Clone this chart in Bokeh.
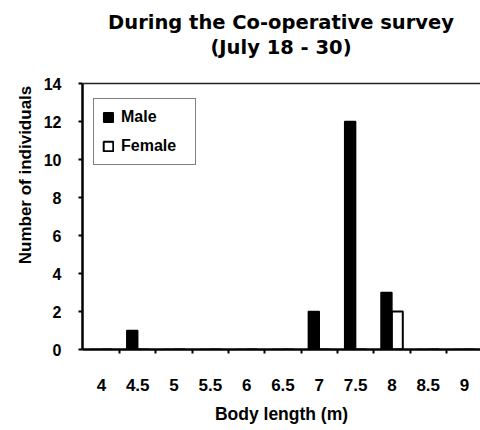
from bokeh.plotting import figure
from bokeh.models import (Range1d, FixedTicker, Label, Legend, LegendItem, Span,
                          ColumnDataSource, Title)
from bokeh.transform import dodge
from bokeh.embed import file_html
from bokeh.resources import INLINE

# ---- data ----
lengths = [4, 4.5, 5, 5.5, 6, 6.5, 7, 7.5, 8, 8.5, 9]
tick_labels = ["4", "4.5", "5", "5.5", "6", "6.5", "7", "7.5", "8", "8.5", "9"]
male = [0, 1, 0, 0, 0, 0, 2, 12, 3, 0, 0]
female = [0, 0, 0, 0, 0, 0, 0, 0, 2, 0, 0]
y_ticks = [0, 2, 4, 6, 8, 10, 12, 14]
title_line1 = "During the Co-operative survey"
title_line2 = "(July 18 - 30)"
y_label = "Number of individuals"
x_label = "Body length (m)"

FONT = "Liberation Sans"
TFONT = "DejaVu Sans"

W, H = 480, 430
BL, BR, BT, BB = 82, 0, 0, 81
FW, FH = W - BL - BR, H - BT - BB     # frame includes the title area
AXIS_H = 266                          # pixel height of the 0..14 axis
y_top = max(y_ticks) * FH / AXIS_H

src = ColumnDataSource(dict(x=lengths, male=male, female=female))

p = figure(width=W, height=H, output_backend="svg", toolbar_location=None,
           x_range=Range1d(3.74, 9.22), y_range=Range1d(0, y_top),
           min_border_left=BL, min_border_right=BR, min_border_top=BT,
           min_border_bottom=BB)
p.title = None
p.outline_line_color = None
p.background_fill_color = "white"
p.border_fill_color = "white"
p.xgrid.visible = False
p.ygrid.visible = False

bar_w = 0.15
r_m = p.vbar(x=dodge("x", -bar_w / 2, range=p.x_range), top="male", width=bar_w,
             source=src, fill_color="black", line_color="black", line_width=1.5)
r_f = p.vbar(x=dodge("x", bar_w / 2, range=p.x_range), top="female", width=bar_w,
             source=src, fill_color="white", line_color="black", line_width=2)

# top border line
p.add_layout(Span(location=max(y_ticks), dimension="width", line_color="#222222",
                  line_width=1.5))

# axes
xa = p.xaxis[0]
xa.ticker = FixedTicker(ticks=lengths, minor_ticks=[v + 0.25 for v in lengths])
xa.major_label_overrides = {v: t for v, t in zip(lengths, tick_labels)}
xa.major_tick_line_color = None
xa.minor_tick_out = 4
xa.minor_tick_in = 0
xa.minor_tick_line_width = 2
xa.minor_tick_line_color = "black"
xa.axis_line_width = 2.5
xa.axis_line_color = "black"
xa.major_label_standoff = 23
xa.major_label_text_font = FONT
xa.major_label_text_font_style = "bold"
xa.major_label_text_font_size = "17px"
xa.major_label_text_color = "black"
xa.axis_label = x_label
xa.axis_label_text_font = FONT
xa.axis_label_text_font_style = "bold"
xa.axis_label_text_font_size = "17.5px"
xa.axis_label_text_color = "black"
xa.axis_label_standoff = 10

ya = p.yaxis[0]
ya.ticker = FixedTicker(ticks=y_ticks, minor_ticks=[])
ya.bounds = (min(y_ticks), max(y_ticks))
ya.major_tick_out = 4
ya.major_tick_in = 0
ya.major_tick_line_width = 2
ya.axis_line_width = 2.5
ya.axis_line_color = "black"
ya.major_label_standoff = 17
ya.major_label_text_font = FONT
ya.major_label_text_font_style = "bold"
ya.major_label_text_font_size = "16px"
ya.major_label_text_color = "black"

# y-axis title, centred on the 0..14 part of the axis
p.add_layout(Title(text=y_label, align="center", offset=-(AXIS_H / 2 - (FH - AXIS_H) / 2) / 1,
                   standoff=11, text_font=FONT, text_font_style="bold",
                   text_font_size="17px", text_color="black"), "left")

# title lines (screen units, measured from the frame bottom)
for txt, from_top in ((title_line1, 22), (title_line2, 47)):
    p.add_layout(Label(x=(FW - 1) / 2, y=FH - from_top, x_units="screen",
                       y_units="screen", text=txt, text_align="center",
                       text_baseline="middle", text_font=TFONT,
                       text_font_style="bold", text_font_size="19.5px",
                       text_color="black"))

legend = Legend(items=[LegendItem(label="Male", renderers=[r_m]),
                       LegendItem(label="Female", renderers=[r_f])],
                location=(11, 184), border_line_color="black", border_line_width=1.5,
                label_text_font=FONT, label_text_font_style="bold",
                label_text_font_size="16px", label_text_color="black",
                glyph_width=12, glyph_height=12, label_height=20, spacing=9,
                padding=8, label_standoff=7, label_width=66, margin=0,
                background_fill_color="white")
p.add_layout(legend, "center")

open("out.html", "w").write(file_html(p, INLINE))
